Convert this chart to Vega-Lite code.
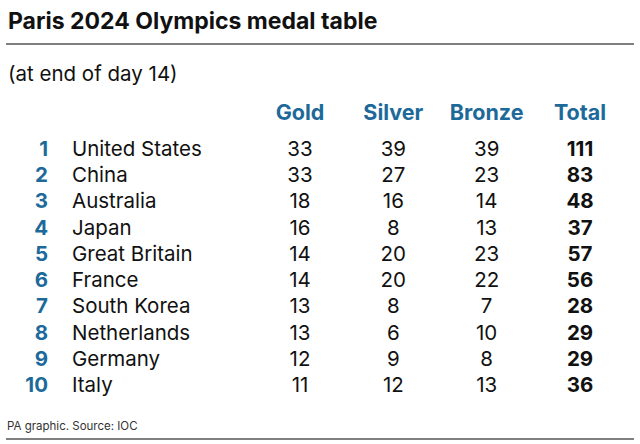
{
  "$schema": "https://vega.github.io/schema/vega-lite/v6.json",
  "width": 640,
  "height": 444,
  "autosize": {"type": "fit", "contains": "padding"},
  "padding": {"left": 5, "right": 5, "top": 0, "bottom": 0},
  "background": "white",
  "config": {"view": {"stroke": null}, "font": "Inter", "text": {"font": "Inter"}},
  "datasets": {
    "table": [
      {"rank": 1, "country": "United States", "Gold": 33, "Silver": 39, "Bronze": 39, "Total": 111},
      {"rank": 2, "country": "China", "Gold": 33, "Silver": 27, "Bronze": 23, "Total": 83},
      {"rank": 3, "country": "Australia", "Gold": 18, "Silver": 16, "Bronze": 14, "Total": 48},
      {"rank": 4, "country": "Japan", "Gold": 16, "Silver": 8, "Bronze": 13, "Total": 37},
      {"rank": 5, "country": "Great Britain", "Gold": 14, "Silver": 20, "Bronze": 23, "Total": 57},
      {"rank": 6, "country": "France", "Gold": 14, "Silver": 20, "Bronze": 22, "Total": 56},
      {"rank": 7, "country": "South Korea", "Gold": 13, "Silver": 8, "Bronze": 7, "Total": 28},
      {"rank": 8, "country": "Netherlands", "Gold": 13, "Silver": 6, "Bronze": 10, "Total": 29},
      {"rank": 9, "country": "Germany", "Gold": 12, "Silver": 9, "Bronze": 8, "Total": 29},
      {"rank": 10, "country": "Italy", "Gold": 11, "Silver": 12, "Bronze": 13, "Total": 36}
    ],
    "headers": [{"key": "Gold"}, {"key": "Silver"}, {"key": "Bronze"}, {"key": "Total"}],
    "title": [{"t": "Paris 2024 Olympics medal table"}],
    "subtitle": [{"t": "(at end of day 14)"}],
    "footer": [{"t": "PA graphic. Source: IOC"}],
    "one": [{}]
  },
  "resolve": {"scale": {"x": "independent"}},
  "layer": [
    {
      "data": {"name": "title"},
      "mark": {"type": "text", "align": "left", "baseline": "alphabetic", "fontSize": 23, "fontWeight": "bold", "color": "#111", "dx": 2},
      "encoding": {
        "x": {"value": 0},
        "y": {"datum": -3.84, "type": "quantitative", "scale": {"domain": [-4.95, 11.98], "reverse": true, "zero": false, "nice": false}, "axis": null},
        "text": {"field": "t"}
      }
    },
    {
      "data": {"name": "one"},
      "mark": {"type": "rule", "color": "#555", "strokeWidth": 1.5},
      "encoding": {
        "y": {"datum": -3.27, "type": "quantitative", "scale": {"domain": [-4.95, 11.98], "reverse": true, "zero": false, "nice": false}, "axis": null}
      }
    },
    {
      "data": {"name": "subtitle"},
      "mark": {"type": "text", "align": "left", "baseline": "alphabetic", "fontSize": 20.5, "color": "#111", "dx": 2},
      "encoding": {
        "x": {"value": 0},
        "y": {"datum": -1.86, "type": "quantitative", "scale": {"domain": [-4.95, 11.98], "reverse": true, "zero": false, "nice": false}, "axis": null},
        "text": {"field": "t"}
      }
    },
    {
      "data": {"name": "headers"},
      "mark": {"type": "text", "align": "center", "baseline": "alphabetic", "fontSize": 21.5, "fontWeight": "bold", "color": "#1d6a9a"},
      "encoding": {
        "x": {"field": "key", "type": "nominal", "scale": {"type": "point", "domain": ["Gold", "Silver", "Bronze", "Total"], "range": [294, 574], "padding": 0}, "axis": null},
        "y": {"datum": -0.37, "type": "quantitative", "scale": {"domain": [-4.95, 11.98], "reverse": true, "zero": false, "nice": false}, "axis": null},
        "text": {"field": "key"}
      }
    },
    {
      "data": {"name": "table"},
      "mark": {"type": "text", "align": "right", "baseline": "alphabetic", "fontSize": 20.5, "fontWeight": "bold", "color": "#1d6a9a"},
      "encoding": {
        "x": {"datum": "rank", "type": "nominal", "scale": {"type": "point", "domain": ["rank", "country"], "range": [42, 66], "padding": 0}, "axis": null},
        "y": {"field": "rank", "type": "quantitative", "scale": {"domain": [-4.95, 11.98], "reverse": true, "zero": false, "nice": false}, "axis": null},
        "text": {"field": "rank"}
      }
    },
    {
      "data": {"name": "table"},
      "mark": {"type": "text", "align": "left", "baseline": "alphabetic", "fontSize": 20.5, "color": "#111"},
      "encoding": {
        "x": {"datum": "country", "type": "nominal", "scale": {"type": "point", "domain": ["rank", "country"], "range": [42, 66], "padding": 0}, "axis": null},
        "y": {"field": "rank", "type": "quantitative", "scale": {"domain": [-4.95, 11.98], "reverse": true, "zero": false, "nice": false}, "axis": null},
        "text": {"field": "country"}
      }
    },
    {
      "data": {"name": "table"},
      "transform": [{"fold": ["Gold", "Silver", "Bronze"], "as": ["key", "value"]}],
      "mark": {"type": "text", "align": "center", "baseline": "alphabetic", "fontSize": 20.5, "color": "#111"},
      "encoding": {
        "x": {"field": "key", "type": "nominal", "scale": {"type": "point", "domain": ["Gold", "Silver", "Bronze", "Total"], "range": [294, 574], "padding": 0}, "axis": null},
        "y": {"field": "rank", "type": "quantitative", "scale": {"domain": [-4.95, 11.98], "reverse": true, "zero": false, "nice": false}, "axis": null},
        "text": {"field": "value", "type": "quantitative"}
      }
    },
    {
      "data": {"name": "table"},
      "mark": {"type": "text", "align": "center", "baseline": "alphabetic", "fontSize": 20.5, "fontWeight": "bold", "color": "#111"},
      "encoding": {
        "x": {"datum": "Total", "type": "nominal", "scale": {"type": "point", "domain": ["Gold", "Silver", "Bronze", "Total"], "range": [294, 574], "padding": 0}, "axis": null},
        "y": {"field": "rank", "type": "quantitative", "scale": {"domain": [-4.95, 11.98], "reverse": true, "zero": false, "nice": false}, "axis": null},
        "text": {"field": "Total", "type": "quantitative"}
      }
    },
    {
      "data": {"name": "footer"},
      "mark": {"type": "text", "align": "left", "baseline": "alphabetic", "fontSize": 11.5, "color": "#333", "dx": 1},
      "encoding": {
        "x": {"value": 0},
        "y": {"datum": 11.45, "type": "quantitative", "scale": {"domain": [-4.95, 11.98], "reverse": true, "zero": false, "nice": false}, "axis": null},
        "text": {"field": "t"}
      }
    },
    {
      "data": {"name": "one"},
      "mark": {"type": "rule", "color": "#555", "strokeWidth": 1.5},
      "encoding": {
        "y": {"datum": 11.79, "type": "quantitative", "scale": {"domain": [-4.95, 11.98], "reverse": true, "zero": false, "nice": false}, "axis": null}
      }
    }
  ]
}
